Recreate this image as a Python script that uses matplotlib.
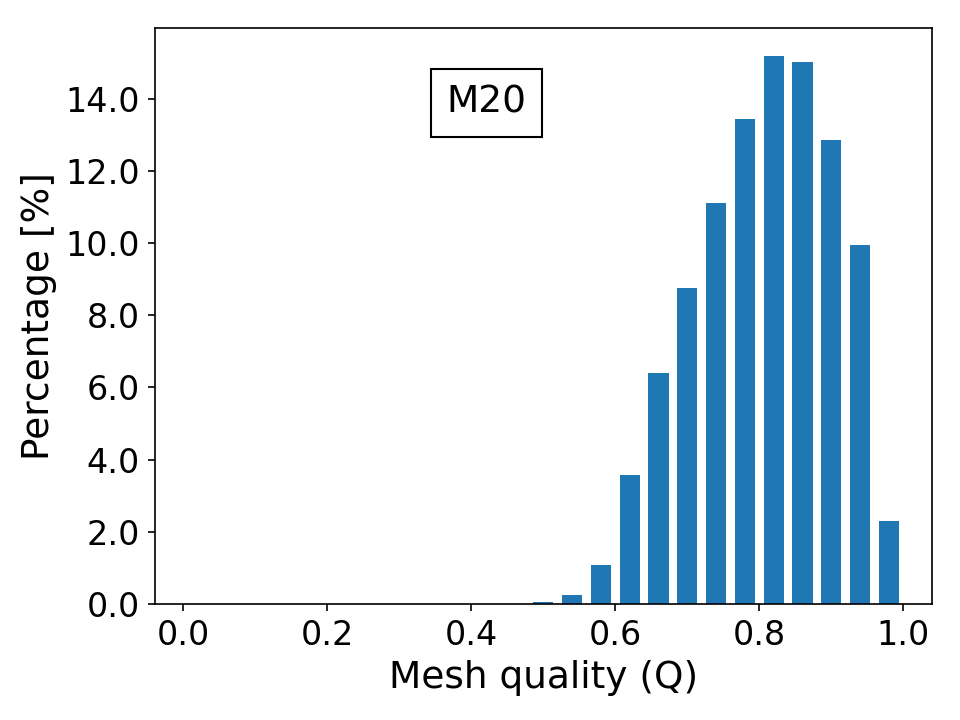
import numpy as np
import matplotlib.pyplot as plt
from matplotlib.ticker import FormatStrFormatter

# bin centres (bin width 0.04) and percentage per bin
centres = [0.02, 0.06, 0.10, 0.14, 0.18, 0.22, 0.26, 0.30, 0.34, 0.38, 0.42,
           0.46, 0.50, 0.54, 0.58, 0.62, 0.66, 0.70, 0.74, 0.78, 0.82, 0.86,
           0.90, 0.94, 0.98]
percent = [0, 0, 0, 0, 0, 0, 0, 0, 0, 0, 0,
           0.01, 0.05, 0.26, 1.08, 3.57, 6.39, 8.74, 11.10, 13.42, 15.19, 15.0,
           12.84, 9.93, 2.30]
xticks = [0.0, 0.2, 0.4, 0.6, 0.8, 1.0]
label = 'M20'

fig = plt.figure(figsize=(6.4, 4.8), dpi=150)
ax = fig.add_axes([0.161, 0.161, 0.81, 0.80])
ax.bar(centres, percent, width=0.04 * 0.7, color='#1f77b4')
ax.set_xlim(-0.04, 1.04)
ax.set_ylim(0, 15.95)
ax.set_xticks(xticks)
ax.yaxis.set_major_formatter(FormatStrFormatter('%.1f'))
ax.xaxis.set_major_formatter(FormatStrFormatter('%.1f'))
ax.tick_params(labelsize=16)
ax.set_xlabel('Mesh quality (Q)', fontsize=18)
ax.set_ylabel('Percentage [%]', fontsize=18)
ax.text(0.427, 0.87, label, transform=ax.transAxes, fontsize=18,
        ha='center', va='center',
        bbox=dict(boxstyle='square,pad=0.42', facecolor='white', edgecolor='black'))

plt.savefig('out.png', dpi=150)
